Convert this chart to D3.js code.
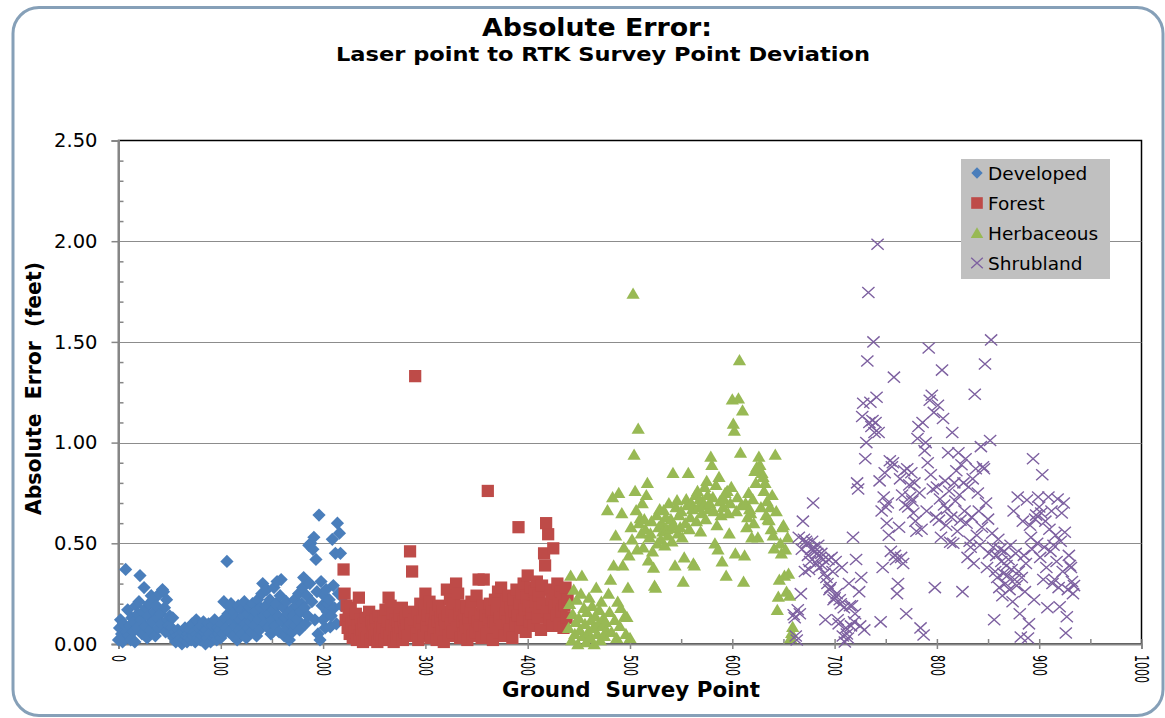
<!DOCTYPE html>
<html><head><meta charset="utf-8">
<script src="https://cdn.jsdelivr.net/npm/d3@7"></script>
<style>body{margin:0;background:#fff}svg{display:block}</style>
</head><body>
<svg id="c" width="1165" height="718"></svg>
<script>
// ---------------- DATA ----------------
const seriesNames = ["Developed", "Forest", "Herbaceous", "Shrubland"];
const titleText = "Absolute Error:";
const subtitleText = "Laser point to RTK Survey Point Deviation";
const yTitleText = "Absolute  Error  (feet)";
const xTitleText = "Ground  Survey Point";

// first Ground Survey Point id of each series; ids run consecutively
const developedStart = 0;
const developed = [
0.02,0.08,0.12,0.05,0.01,0.10,0.03,0.37,0.06,0.17,
0.04,0.09,0.02,0.13,0.06,0.11,0.01,0.19,0.08,0.15,
0.21,0.34,0.12,0.05,0.16,0.28,0.09,0.18,0.03,0.14,
0.20,0.07,0.24,0.11,0.22,0.16,0.04,0.19,0.13,0.08,
0.25,0.15,0.10,0.27,0.26,0.18,0.06,0.22,0.12,0.09,
0.14,0.05,0.08,0.13,0.03,0.06,0.01,0.04,0.07,0.02,
0.05,0.03,0.00,0.06,0.02,0.08,0.04,0.01,0.05,0.03,
0.07,0.02,0.10,0.04,0.06,0.01,0.12,0.05,0.03,0.08,
0.02,0.09,0.04,0.11,0.06,0.00,0.07,0.03,0.10,0.05,
0.01,0.06,0.09,0.03,0.12,0.04,0.02,0.08,0.05,0.07,
0.03,0.10,0.05,0.21,0.13,0.08,0.41,0.15,0.06,0.18,
0.20,0.11,0.04,0.16,0.09,0.13,0.02,0.19,0.07,0.12,
0.17,0.05,0.14,0.21,0.10,0.03,0.15,0.08,0.18,0.11,
0.06,0.20,0.13,0.09,0.16,0.04,0.22,0.12,0.07,0.18,
0.25,0.30,0.14,0.10,0.19,0.27,0.08,0.15,0.22,0.05,
0.12,0.17,0.28,0.09,0.20,0.31,0.14,0.06,0.24,0.32,
0.11,0.18,0.04,0.13,0.21,0.08,0.15,0.02,0.10,0.17,
0.06,0.14,0.22,0.09,0.19,0.12,0.25,0.07,0.16,0.20,
0.28,0.33,0.18,0.10,0.24,0.14,0.49,0.30,0.50,0.21,
0.47,0.53,0.12,0.42,0.26,0.05,0.64,0.02,0.31,0.19,
0.12,0.24,0.08,0.27,0.16,0.20,0.22,0.085,0.14,0.52,
0.29,0.18,0.45,0.10,0.60,0.25,0.55,0.45,0.19,0.23
];

const forestStart = 220;
const forest = [
0.37,0.25,0.12,0.19,0.08,0.14,0.05,0.18,0.10,0.03,
0.11,0.06,0.15,0.02,0.09,0.23,0.04,0.12,0.07,0.01,
0.10,0.05,0.13,0.03,0.08,0.16,0.02,0.11,0.06,0.09,
0.04,0.12,0.07,0.01,0.14,0.05,0.10,0.03,0.08,0.13,
0.02,0.17,0.06,0.11,0.23,0.04,0.19,0.09,0.15,0.01,
0.07,0.12,0.03,0.10,0.05,0.14,0.08,0.18,0.02,0.11,
0.06,0.13,0.09,0.04,0.16,0.46,0.10,0.36,0.07,0.12,
1.33,0.05,0.15,0.02,0.11,0.20,0.08,0.13,0.04,0.17,
0.25,0.09,0.14,0.06,0.21,0.03,0.12,0.18,0.07,0.10,
0.15,0.02,0.11,0.19,0.05,0.13,0.08,0.16,0.01,0.12,
0.09,0.27,0.14,0.04,0.22,0.10,0.17,0.06,0.20,0.13,
0.30,0.08,0.25,0.15,0.03,0.19,0.11,0.05,0.14,0.09,
0.18,0.02,0.12,0.07,0.16,0.21,0.04,0.10,0.13,0.06,
0.24,0.11,0.32,0.08,0.15,0.03,0.19,0.32,0.09,0.14,
0.05,0.76,0.12,0.20,0.07,0.16,0.02,0.11,0.22,0.10,
0.17,0.26,0.06,0.13,0.28,0.09,0.19,0.04,0.15,0.21,
0.11,0.24,0.07,0.18,0.13,0.03,0.22,0.16,0.10,0.27,
0.14,0.58,0.20,0.08,0.25,0.12,0.30,0.17,0.06,0.23,
0.34,0.19,0.11,0.28,0.15,0.185,0.09,0.26,0.21,0.31,
0.13,0.24,0.18,0.07,0.29,0.20,0.45,0.39,0.60,0.16,
0.545,0.12,0.27,0.22,0.09,0.475,0.18,0.25,0.14,0.30,
0.21,0.10,0.26,0.16,0.23,0.08,0.19,0.28,0.13,0.22
];

const herbaceousStart = 440;
const herbaceous = [
0.08,0.20,0.34,0.02,0.15,0.27,0.05,0.11,0.22,0.00,
0.13,0.07,0.25,0.34,0.04,0.18,0.10,0.01,0.16,0.06,
0.23,0.03,0.12,0.19,0.08,0.00,0.14,0.28,0.05,0.10,
0.17,0.02,0.21,0.09,0.13,0.04,0.11,0.07,0.665,0.25,
0.16,0.32,0.06,0.73,0.39,0.12,0.54,0.03,0.21,0.75,
0.09,0.18,0.65,0.39,0.48,0.14,0.05,0.135,0.28,0.44,
0.03,0.58,0.52,1.74,0.94,0.76,0.665,0.47,1.07,0.60,
0.625,0.55,0.70,0.48,0.62,0.57,0.74,0.80,0.415,0.53,
0.55,0.61,0.46,0.38,0.29,0.28,0.64,0.50,0.58,0.67,
0.52,0.60,0.56,0.665,0.49,0.63,0.57,0.54,0.70,0.575,
0.62,0.51,0.85,0.59,0.39,0.68,0.715,0.55,0.64,0.58,
0.66,0.53,0.31,0.43,0.60,0.72,0.69,0.85,0.57,0.63,
0.70,0.67,0.40,0.39,0.74,0.61,0.76,0.68,0.72,0.56,
0.65,0.71,0.69,0.78,0.62,0.81,0.74,0.67,0.70,0.93,
0.89,0.73,0.66,0.50,0.79,0.59,0.47,0.83,0.71,0.64,
0.41,0.68,0.72,0.75,0.34,0.76,0.65,0.55,0.70,0.78,
1.215,1.095,1.06,0.45,0.66,0.73,1.22,1.41,0.95,0.69,
1.16,0.31,0.44,0.70,0.58,0.63,0.75,0.67,0.65,0.53,
0.72,0.60,0.86,0.80,0.88,0.53,0.93,0.89,0.68,0.85,
0.83,0.76,0.80,0.64,0.71,0.62,0.615,0.68,0.57,0.74,
0.54,0.475,0.94,0.66,0.17,0.235,0.32,0.50,0.45,0.58,
0.59,0.34,0.47,0.26,0.53,0.35,0.24,0.03,0.055,0.085
];

const shrublandStart = 660;
const shrubland = [
0.145,0.13,0.04,0.02,0.17,0.53,0.15,0.25,0.47,0.61,
0.52,0.36,0.51,0.50,0.44,0.37,0.41,0.47,0.51,0.70,
0.48,0.46,0.40,0.45,0.49,0.38,0.43,0.45,0.39,0.42,
0.35,0.12,0.33,0.30,0.42,0.27,0.28,0.43,0.36,0.22,
0.23,0.41,0.25,0.12,0.10,0.22,0.20,0.38,0.04,0.18,
0.01,0.08,0.05,0.03,0.30,0.19,0.09,0.19,0.53,0.11,
0.15,0.42,0.80,0.77,0.26,0.09,0.33,1.13,1.195,0.07,
0.92,1.00,1.405,1.745,1.10,1.20,1.08,1.11,1.50,1.05,
1.10,1.225,1.985,1.05,0.81,0.11,0.66,0.38,0.73,0.85,
0.68,0.60,0.70,0.54,0.91,0.46,0.88,0.90,1.325,0.44,
0.42,0.25,0.30,0.58,0.82,0.43,0.74,0.40,0.86,0.69,
0.15,0.87,0.68,0.79,0.73,0.85,0.71,0.65,0.80,0.61,
0.56,1.02,1.08,0.75,0.08,0.57,1.10,0.045,0.96,1.00,
0.66,0.90,1.47,1.21,0.84,1.235,0.77,1.15,0.28,0.63,
0.78,1.185,0.615,0.72,0.53,1.36,1.12,0.69,0.81,0.59,
0.67,0.95,0.76,0.505,0.63,1.05,0.50,0.80,0.71,0.86,
0.56,0.95,0.74,0.615,0.89,0.26,0.80,0.66,0.92,0.60,
0.43,0.78,0.51,0.48,0.63,0.82,0.40,1.24,0.87,0.54,
0.75,0.66,0.49,0.98,0.58,0.88,0.87,1.39,0.70,0.38,
0.62,0.45,1.01,1.51,0.55,0.48,0.12,0.36,0.44,0.33,
0.52,0.28,0.47,0.41,0.24,0.35,0.46,0.30,0.39,0.34,
0.42,0.27,0.49,0.37,0.21,0.66,0.32,0.45,0.29,0.73,
0.36,0.15,0.035,0.33,0.61,0.44,0.26,0.40,0.715,0.03,
0.10,0.59,0.53,0.47,0.92,0.22,0.62,0.64,0.50,0.73,
0.68,0.43,0.65,0.84,0.32,0.48,0.61,0.38,0.18,0.73,
0.57,0.46,0.66,0.30,0.49,0.32,0.54,0.41,0.72,0.28,
0.185,0.51,0.65,0.36,0.70,0.555,0.055,0.135,0.27,0.44,
0.39,0.38,0.31,0.25,0.29
];

const yTickValues = [0, 0.5, 1.0, 1.5, 2.0, 2.5];
const yMinorTickValues = [0.1,0.2,0.3,0.4,0.6,0.7,0.8,0.9,1.1,1.2,1.3,1.4,1.6,1.7,1.8,1.9,2.1,2.2,2.3,2.4];
const xTickValues = [0, 100, 200, 300, 400, 500, 600, 700, 800, 900, 1000];
const xMinorTickValues = [50, 150, 250, 350, 450, 550, 650, 750, 850, 950];

// ---------------- STYLE ----------------
const colors = { Developed: "#4a7ebb", Forest: "#be4b48", Herbaceous: "#98b954", Shrubland: "#7d60a0" };
const FONT = "'DejaVu Sans', Verdana, sans-serif";

// custom marker shapes
const diamond = { draw(ctx, s) { const r = Math.sqrt(s) / 2; ctx.moveTo(0, -r); ctx.lineTo(r, 0); ctx.lineTo(0, r); ctx.lineTo(-r, 0); ctx.closePath(); } };
const square = { draw(ctx, s) { const r = Math.sqrt(s) / 2; ctx.rect(-r, -r, 2 * r, 2 * r); } };
const triangle = { draw(ctx, s) { const r = Math.sqrt(s) / 2; ctx.moveTo(0, -r * 0.92); ctx.lineTo(r, r * 0.78); ctx.lineTo(-r, r * 0.78); ctx.closePath(); } };
const cross = { draw(ctx, s) { const r = Math.sqrt(s) / 2; const h = r * 0.9; ctx.moveTo(-r, -h); ctx.lineTo(r, h); ctx.moveTo(-r, h); ctx.lineTo(r, -h); } };

const series = [
  { name: "Developed", start: developedStart, values: developed, shape: diamond, size: 175, stroke: false },
  { name: "Forest", start: forestStart, values: forest, shape: square, size: 150, stroke: false },
  { name: "Herbaceous", start: herbaceousStart, values: herbaceous, shape: triangle, size: 175, stroke: false },
  { name: "Shrubland", start: shrublandStart, values: shrubland, shape: cross, size: 150, stroke: true }
];

// ---------------- DRAW ----------------
const svg = d3.select("#c");
svg.append("rect").attr("width", 1165).attr("height", 718).attr("fill", "#fff");
svg.append("rect").attr("x", 13).attr("y", 7.5).attr("width", 1150).attr("height", 708)
  .attr("rx", 26).attr("fill", "#fff").attr("stroke", "#86a0b8").attr("stroke-width", 3);

const P = { l: 118.5, r: 1141.5, t: 140.5, b: 644 };
const x = d3.scaleLinear().domain([0, 1000]).range([P.l, P.r]);
const y = d3.scaleLinear().domain([0, 2.5]).range([P.b, P.t]);

// plot frame (top / right black)
svg.append("rect").attr("x", P.l).attr("y", P.t).attr("width", P.r - P.l).attr("height", P.b - P.t)
  .attr("fill", "none").attr("stroke", "#000").attr("stroke-width", 1.5);

// gridlines
svg.append("g").selectAll("line").data(yTickValues.filter(d => d > 0 && d < 2.5)).join("line")
  .attr("x1", P.l).attr("x2", P.r).attr("y1", d => Math.round(y(d)) + 0.5).attr("y2", d => Math.round(y(d)) + 0.5)
  .attr("stroke", "#8c8c8c").attr("stroke-width", 1.2);

// Y axis
const yAxis = svg.append("g").attr("transform", `translate(${P.l},0)`)
  .call(d3.axisLeft(y).tickValues(yTickValues).tickSize(7).tickPadding(14).tickFormat(d3.format(".2f")));
yAxis.select(".domain").attr("stroke", "#868686").attr("stroke-width", 2);
yAxis.selectAll(".tick line").attr("stroke", "#868686").attr("stroke-width", 1.5);
yAxis.selectAll("text").attr("font-family", FONT).attr("font-size", 19.5).attr("fill", "#000");
const yMinor = svg.append("g").attr("transform", `translate(${P.l},0)`)
  .call(d3.axisRight(y).tickValues(yMinorTickValues).tickSize(5).tickFormat(""));
yMinor.select(".domain").remove();
yMinor.selectAll(".tick line").attr("stroke", "#868686").attr("stroke-width", 1.5);

// X axis
const xMinor = svg.append("g").attr("transform", `translate(0,${P.b})`)
  .call(d3.axisTop(x).tickValues(xTickValues.concat(xMinorTickValues)).tickSize(5).tickFormat(""));
xMinor.select(".domain").remove();
xMinor.selectAll(".tick line").attr("stroke", "#868686").attr("stroke-width", 1.5);
const xAxis = svg.append("g").attr("transform", `translate(0,${P.b})`)
  .call(d3.axisBottom(x).tickValues(xTickValues).tickSize(5).tickFormat(d3.format("d")));
xAxis.select(".domain").attr("stroke", "#868686").attr("stroke-width", 2);
xAxis.selectAll(".tick line").attr("stroke", "#868686").attr("stroke-width", 1.5);
xAxis.selectAll("text")
  .attr("font-family", FONT).attr("font-size", 19).attr("fill", "#000")
  .attr("x", 0).attr("y", 0).attr("dy", "0.36em").attr("text-anchor", "start")
  .attr("transform", "translate(0,11) rotate(90) scale(0.58,1)");

// markers
series.forEach(s => {
  const sym = d3.symbol().type(s.shape).size(s.size);
  const g = svg.append("g");
  g.selectAll("path").data(s.values.map((v, i) => ({ id: s.start + i, v }))).join("path")
    .attr("transform", d => `translate(${x(d.id)},${y(d.v)})`)
    .attr("d", sym)
    .attr("fill", s.stroke ? "none" : colors[s.name])
    .attr("stroke", s.stroke ? colors[s.name] : "none")
    .attr("stroke-width", s.stroke ? 1.4 : 0);
});

// legend
const L = { x: 961, y: 159, w: 149, h: 120 };
svg.append("rect").attr("x", L.x).attr("y", L.y).attr("width", L.w).attr("height", L.h).attr("fill", "#c0c0c0");
series.forEach((s, i) => {
  const cy = 173 + i * 30;
  svg.append("path").attr("transform", `translate(977,${cy})`)
    .attr("d", d3.symbol().type(s.shape).size(s.shape === diamond ? 130 : s.size * 0.9)())
    .attr("fill", s.stroke ? "none" : colors[s.name])
    .attr("stroke", s.stroke ? colors[s.name] : "none")
    .attr("stroke-width", s.stroke ? 1.4 : 0);
  svg.append("text").attr("x", 988).attr("y", cy + 7).text(s.name)
    .attr("font-family", FONT).attr("font-size", 18.5).attr("fill", "#000");
});

// titles
svg.append("text").attr("x", 597).attr("y", 36).attr("text-anchor", "middle")
  .attr("font-family", FONT).attr("font-weight", "bold").attr("font-size", 25)
  .attr("textLength", 230).attr("lengthAdjust", "spacingAndGlyphs").text(titleText);
svg.append("text").attr("x", 603).attr("y", 61).attr("text-anchor", "middle")
  .attr("font-family", FONT).attr("font-weight", "bold").attr("font-size", 19)
  .attr("textLength", 534).attr("lengthAdjust", "spacingAndGlyphs").text(subtitleText);
svg.append("text").attr("transform", "translate(41,388.5) rotate(-90)").attr("text-anchor", "middle")
  .attr("font-family", FONT).attr("font-weight", "bold").attr("font-size", 21)
  .attr("textLength", 253).attr("lengthAdjust", "spacingAndGlyphs")
  .style("white-space", "pre").text(yTitleText);
svg.append("text").attr("x", 631).attr("y", 697).attr("text-anchor", "middle")
  .attr("font-family", FONT).attr("font-weight", "bold").attr("font-size", 21)
  .attr("textLength", 258).attr("lengthAdjust", "spacingAndGlyphs")
  .style("white-space", "pre").text(xTitleText);
</script>
</body></html>
